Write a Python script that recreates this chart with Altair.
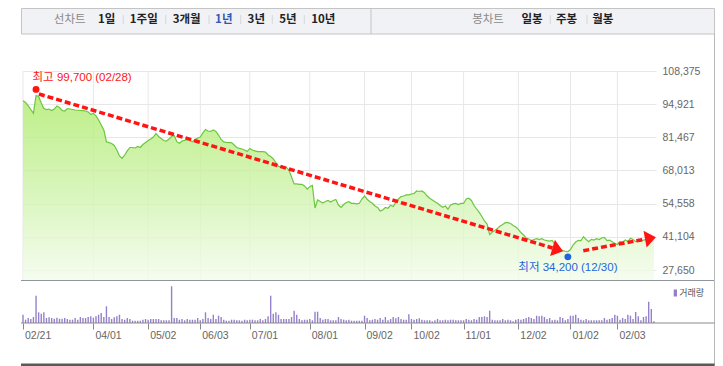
import math
import altair as alt
import pandas as pd

# ---------------- data ----------------
tick_idx = [0, 27, 48, 68, 87, 110, 131, 149, 169, 190, 210, 228]
tick_labels = ["02/21", "04/01", "05/02", "06/03", "07/01", "08/01",
               "09/02", "10/02", "11/01", "12/02", "01/02", "02/03"]
price_ticks = [27650, 41104, 54558, 68013, 81467, 94921, 108375]

close = [
    96350, 95600, 94200, 92750, 91200, 98450, 98050, 95400, 93150, 92750,
    92950, 92350, 92950, 94200, 93600, 92350, 92150, 93150, 92950, 92750,
    92550, 92450, 92350, 92300, 92150, 91750, 90800, 91200, 90150, 88500,
    86500, 84450, 79700, 79300, 78950, 78150, 76350, 73900, 72950, 74300,
    75950, 77350, 77350, 77150, 77750, 77350, 78550, 79400, 80200, 80800,
    81600, 83050, 81800, 81000, 80200, 79900, 80800, 81800, 82200, 79700,
    79050, 80000, 80200, 80600, 80200, 79700, 80600, 81200, 81600, 83250,
    84650, 84050, 83850, 84450, 83850, 82400, 80600, 79600, 79400, 79300,
    79300, 78350, 77350, 77000, 76750, 76350, 75700, 76950, 76350, 75950,
    75700, 75650, 75650, 75500, 74300, 73700, 72700, 71250, 69700, 69500,
    69300, 69250, 68200, 65400, 62550, 62550, 62400, 62350, 61750, 60500,
    61450, 61950, 52800, 56050, 55450, 54850, 55450, 55850, 55250, 55850,
    56250, 54000, 53000, 54200, 55050, 55350, 54700, 54700, 54500, 54700,
    56450, 57650, 56350, 55450, 54700, 53600, 53000, 51600, 52000, 53000,
    52700, 53950, 53400, 55050, 56450, 57400, 57650, 58100, 58100, 58500,
    58750, 59700, 59500, 59700, 59000, 57650, 56750, 56050, 55350, 54700,
    53800, 53100, 53600, 52300, 54000, 54450, 54650, 54200, 54650, 54650,
    56450, 56750, 55850, 53800, 52400, 51050, 49350, 47550, 46300, 42050,
    43050, 43700, 44500, 45500, 46100, 46850, 46850, 46500, 45700, 45100,
    44150, 42850, 41850, 40650, 40250, 39550, 40000, 40350, 40000, 40350,
    39800, 39550, 39350, 39600, 38000, 37000, 36150, 35500, 35250, 35150,
    35950, 37800, 39000, 39700, 39600, 41150, 40000, 39150, 40100, 39800,
    40350, 40000, 40650, 40850, 39550, 39800, 39150, 38400, 38000, 39200,
    39000, 39800, 39200, 40500, 40000, 39150, 39550, 39400, 39800, 40000,
    40250, 40450, 40450,
]

volume = [  # thousand shares
    830, 330, 500, 400, 600, 2730, 1070, 930, 1070, 500,
    570, 500, 430, 530, 430, 430, 500, 400, 330, 330,
    500, 330, 600, 500, 500, 600, 670, 530, 670, 830,
    1000, 600, 1670, 600, 400, 570, 670, 830, 400, 330,
    500, 400, 230, 230, 230, 230, 330, 400, 330, 400,
    400, 400, 400, 270, 270, 270, 270, 3670, 500, 500,
    330, 400, 270, 400, 330, 330, 330, 500, 270, 400,
    1070, 500, 400, 830, 400, 730, 600, 330, 230, 230,
    330, 330, 270, 270, 230, 330, 270, 330, 330, 270,
    270, 400, 270, 400, 670, 2730, 930, 1070, 830, 400,
    400, 400, 400, 600, 1230, 830, 400, 270, 330, 330,
    400, 270, 1130, 1130, 500, 330, 400, 400, 270, 270,
    270, 600, 400, 330, 270, 330, 230, 230, 230, 230,
    230, 730, 500, 270, 330, 400, 330, 500, 330, 600,
    270, 400, 600, 470, 600, 400, 330, 330, 870, 400,
    330, 400, 470, 330, 270, 270, 270, 170, 270, 400,
    270, 270, 330, 270, 330, 330, 270, 270, 270, 270,
    400, 330, 270, 400, 330, 600, 600, 670, 600, 1230,
    330, 270, 270, 270, 400, 270, 330, 270, 170, 330,
    400, 330, 400, 500, 600, 500, 400, 730, 670, 730,
    600, 400, 500, 270, 330, 270, 600, 500, 270, 400,
    730, 730, 830, 500, 330, 270, 400, 270, 270, 270,
    270, 270, 270, 500, 330, 400, 500, 830, 730, 330,
    500, 400, 830, 730, 400, 1100, 670, 270, 600, 670,
    2130, 1400, 170,
]

high_idx, high_val, high_date = 5, 99700, "02/28"
low_idx, low_val, low_date = 209, 34200, "12/30"

trend_from_idx = [6.1, 214.9]
trend_from_val = [99050, 35480]
trend_to_idx = [203.1, 238.6]
trend_to_val = [36580, 40150]

toolbar_left = ["선차트", "1일", "1주일", "3개월", "1년", "3년", "5년", "10년"]
toolbar_right = ["봉차트", "일봉", "주봉", "월봉"]
volume_label = "거래량"

# ---------------- layout ----------------
X0, Y0 = 23, 71          # page position of plot origin
W, H = 633, 252
X_MAX = 242.8
P_MIN, P_MAX = 27650, 108375
P_PIX = 199
RIGHT_EDGE = 714.5       # last visible page column (svg must stay <= 707 wide)
FONT = "Liberation Sans, Noto Sans CJK KR"
KFONT = "Noto Sans CJK KR"
RED = "#ff1414"
BLUE = "#1f66dc"
PURPLE = "#9580cc"

label_expr = ("[" + ",".join(f"'{l}'" for l in tick_labels) + "][indexof(["
              + ",".join(str(t) for t in tick_idx) + "], datum.value)]")

x_scale = alt.Scale(domain=[0, X_MAX], nice=False, zero=False, padding=0)
x_axis = alt.Axis(values=tick_idx, labelExpr=label_expr, grid=False, domain=False,
                  ticks=True, tickSize=6, tickColor="#888888", labelAlign="left",
                  labelBaseline="top", labelOffset=1.5, labelPadding=1,
                  labelFlush=False, labelOverlap=False, labelColor="#666666",
                  labelFont="Liberation Sans", labelFontSize=10.5, title=None)


def X(field):
    return alt.X(field, scale=x_scale, axis=x_axis)


p_scale = alt.Scale(domain=[P_MIN, P_MAX], range=[P_PIX, 0], nice=False, zero=False)
p_axis = alt.Axis(orient="right", values=price_ticks, format=",d", grid=True,
                  gridColor="#e7e7e7", gridWidth=1, domain=False, ticks=False,
                  labelPadding=6, labelColor="#666666", labelFont="Liberation Sans",
                  labelFontSize=10.5, title=None)


def PY(field):
    return alt.Y(field, scale=p_scale, axis=p_axis)


price_df = pd.DataFrame({"i": list(range(len(close))), "close": close})
vol_df = pd.DataFrame({"i": list(range(len(volume))), "vol": volume})
tick_df = pd.DataFrame({"i": tick_idx})

ppi = W / X_MAX
ppp = P_PIX / (P_MAX - P_MIN)
angles = []
for a, b, c, d in zip(trend_from_idx, trend_from_val, trend_to_idx, trend_to_val):
    ang = math.degrees(math.atan2(-(d - b) * ppp, (c - a) * ppi))
    angles.append(ang % 360)
trend_df = pd.DataFrame({"i": trend_from_idx, "p": trend_from_val,
                         "i2": trend_to_idx, "p2": trend_to_val, "ang": angles})

hi_df = pd.DataFrame({"i": [high_idx], "p": [high_val],
                      "label": [f"최고 {high_val:,} ({high_date})"]})
lo_df = pd.DataFrame({"i": [low_idx], "p": [low_val],
                      "label": [f"최저 {low_val:,} ({low_date})"]})

one = pd.DataFrame({"k": [0]})

layers = []

# vertical grid lines (price panel only)
layers.append(alt.Chart(tick_df).mark_rule(color="#e7e7e7", strokeWidth=1).encode(
    x=X("i:Q"), y=alt.value(0), y2=alt.value(209)))

# area + line
grad = alt.Gradient(gradient="linear",
                    stops=[alt.GradientStop(color="#b0eb6e", offset=0),
                           alt.GradientStop(color="#cbf2a4", offset=0.45),
                           alt.GradientStop(color="#f3fcec", offset=1)],
                    x1=1, x2=1, y1=0, y2=1)
layers.append(alt.Chart(price_df).mark_area(color=grad, opacity=0.82).encode(
    x=X("i:Q"), y=PY("close:Q"), y2=alt.datum(23600)))
layers.append(alt.Chart(price_df).mark_line(color="#6cc63e", strokeWidth=1.2).encode(
    x=X("i:Q"), y=PY("close:Q")))

# dashed trend lines + arrows
layers.append(alt.Chart(trend_df).mark_rule(color=RED, strokeWidth=3.5,
                                            strokeDash=[6, 3]).encode(
    x=X("i:Q"), x2="i2:Q", y=PY("p:Q"), y2="p2:Q"))
layers.append(alt.Chart(trend_df).mark_point(
    shape="M 0 -0.77 L 1 0 L 0 0.77 Z", size=484, filled=True, color=RED,
    opacity=1, strokeWidth=0).encode(
    x=X("i2:Q"), y=PY("p2:Q"), angle=alt.Angle("ang:Q", scale=None)))

# high / low markers and labels
layers.append(alt.Chart(hi_df).mark_circle(size=48, color=RED, opacity=1, yOffset=-3).encode(
    x=X("i:Q"), y=PY("p:Q")))
layers.append(alt.Chart(lo_df).mark_circle(size=48, color=BLUE, opacity=1, yOffset=3).encode(
    x=X("i:Q"), y=PY("p:Q")))
layers.append(alt.Chart(hi_df).mark_text(align="left", baseline="middle", dx=-3.5, dy=-14,
                                         font=FONT, fontSize=11.5, color=RED).encode(
    x=X("i:Q"), y=PY("p:Q"), text="label:N"))
layers.append(alt.Chart(lo_df).mark_text(align="center", baseline="middle", dy=14,
                                         font=FONT, fontSize=11.5, color=BLUE).encode(
    x=X("i:Q"), y=PY("p:Q"), text="label:N"))

price_layer = alt.layer(*layers)

# volume
vol_layer = alt.Chart(vol_df).mark_bar(size=1.4, color=PURPLE).encode(
    x=X("i:Q"),
    y=alt.Y("vol:Q", scale=alt.Scale(domain=[0, 4000], range=[252, 212], nice=False),
            axis=None))

deco = []


def vx(px):
    return px - X0


def vy(py):
    return py - Y0


def hrule(py, color, width, x_from=21, x_to=RIGHT_EDGE):
    return alt.Chart(one).mark_rule(color=color, strokeWidth=width).encode(
        x=alt.value(vx(x_from)), x2=alt.value(vx(x_to)), y=alt.value(vy(py)))


def vrule(px, y_from, y_to, color, width=1):
    return alt.Chart(one).mark_rule(color=color, strokeWidth=width).encode(
        x=alt.value(vx(px)), y=alt.value(vy(y_from)), y2=alt.value(vy(y_to)))


def text(label, px, py, color, size, weight="normal", align="center", font=KFONT):
    return alt.Chart(one).mark_text(text=label, color=color, fontSize=size,
                                    fontWeight=weight, align=align, baseline="middle",
                                    font=font).encode(
        x=alt.value(vx(px)), y=alt.value(vy(py)))


# toolbar
deco.append(alt.Chart(one).mark_rect(fill="#f1f2f6", stroke="#c4c4c4", strokeWidth=1).encode(
    x=alt.value(vx(21.5)), x2=alt.value(vx(RIGHT_EDGE)), y=alt.value(vy(8.5)),
    y2=alt.value(vy(34))))
deco.append(vrule(371, 8.5, 34, "#c4c4c4"))
left_pos = [69.7, 106.7, 143.8, 186.7, 223.8, 256.3, 288, 323.3]
right_pos = [488, 532, 566.5, 602.8]
for k, (lab, px) in enumerate(zip(toolbar_left, left_pos)):
    if k == 0:
        deco.append(text(lab, px, 19.5, "#8a8a8a", 11.5))
    elif lab == "1년":
        deco.append(text(lab, px, 19.5, "#3158b0", 11.5, "bold"))
    else:
        deco.append(text(lab, px, 19.5, "#222222", 11.5, "bold"))
for k, (lab, px) in enumerate(zip(toolbar_right, right_pos)):
    if k == 0:
        deco.append(text(lab, px, 19.5, "#8a8a8a", 11.5))
    else:
        deco.append(text(lab, px, 19.5, "#222222", 11.5, "bold"))
for sx in [123.3, 165.7, 209, 240.7, 272.3, 304.3, 550.3, 587]:
    deco.append(vrule(sx, 15, 24, "#d6d6d6"))

# frame lines
deco.append(hrule(280.5, "#8e959e", 1))
deco.append(vrule(RIGHT_EDGE, 34, 366, "#b8b8b8"))
deco.append(hrule(323, "#8a8a8a", 1.2))
deco.append(hrule(364.8, "#5a5a5a", 2.5))

# volume legend
deco.append(alt.Chart(one).mark_rect(fill=PURPLE).encode(
    x=alt.value(vx(673.7)), x2=alt.value(vx(677)), y=alt.value(vy(289.5)),
    y2=alt.value(vy(296.5))))
deco.append(text(volume_label, 679.3, 293, "#555555", 9, align="left"))

chart = alt.layer(price_layer, vol_layer, *deco).resolve_scale(y="independent").properties(
    width=W, height=H,
    padding={"left": 15, "top": 63, "right": 59, "bottom": 43},
    autosize=alt.AutoSizeParams(type="none"),
).configure_view(strokeWidth=0)

chart.save("out.html", embed_options={"renderer": "svg", "actions": False})
